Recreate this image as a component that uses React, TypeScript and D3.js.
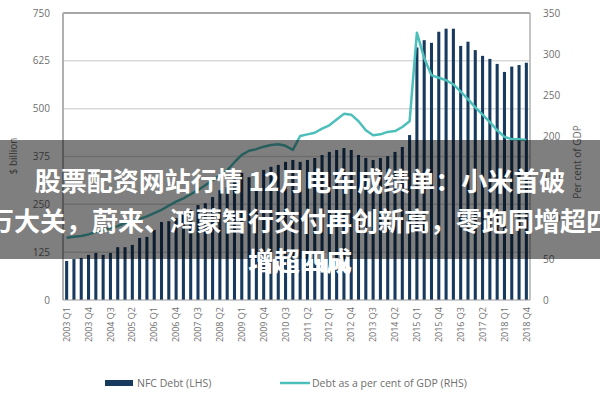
import React from "react";
import * as d3 from "d3";

const years = [2003, 2004, 2005, 2006, 2007, 2008, 2009, 2010, 2011, 2012, 2013, 2014, 2015, 2016, 2017, 2018];
const quarterNames = ["Q1", "Q2", "Q3", "Q4"];
const quarters: string[] = years.flatMap((y) => quarterNames.map((q) => `${y} ${q}`));

// NFC Debt ($ billion, LHS)
const nfcDebt = [
  102, 107, 110, 118, 123, 118, 123, 138, 138, 144, 162, 165, 183, 204, 206, 214,
  222, 235, 248, 253, 269, 287, 295, 319, 332, 321, 329, 340, 348, 353, 361, 366,
  361, 366, 371, 379, 387, 392, 397, 392, 379, 371, 366, 371, 376, 387, 400, 431,
  660, 679, 672, 701, 709, 709, 664, 675, 653, 638, 630, 617, 596, 610, 614, 620,
];

// Debt as a per cent of GDP (RHS)
const debtPctGdp = [
  76, 77, 78, 80, 83, 85, 88, 90, 94, 96, 99, 102, 106, 110, 115, 120,
  124, 129, 134, 140, 146, 152, 158, 168, 177, 182, 184, 187, 189, 190, 188, 183,
  200, 202, 204, 209, 213, 220, 227, 226, 218, 207, 201, 202, 205, 206, 211, 218,
  326, 295, 274, 271, 268, 263, 254, 245, 235, 226, 217, 207, 199, 196, 196, 195,
];

const leftTicks = [0, 125, 250, 375, 500, 625, 750];
const rightTicks = [0, 50, 100, 150, 200, 250, 300, 350];
const titleLines = [
  "股票配资网站行情 12月电车成绩单：小米首破",
  "万大关，蔚来、鸿蒙智行交付再创新高，零跑同增超四",
  "增超四成",
];
const legendLabels = ["NFC Debt (LHS)", "Debt as a per cent of GDP (RHS)"];

const W = 600;
const H = 400;
const plot = { left: 63, right: 530, top: 13, bottom: 300 };
const navy = "#173a5e";
const teal = "#4cbfba";
const tickColor = "#6e6e6e";
const font = "'Open Sans', 'Liberation Sans', sans-serif";

export default function App() {
  const x = d3.scaleBand<number>().domain(d3.range(quarters.length)).range([plot.left, plot.right]).paddingInner(0.58).paddingOuter(0.29);
  const yL = d3.scaleLinear().domain([0, 750]).range([plot.bottom, plot.top]);
  const yR = d3.scaleLinear().domain([0, 350]).range([plot.bottom, plot.top]);
  const cx = (i: number) => (x(i) as number) + x.bandwidth() / 2;
  const line = d3
    .line<number>()
    .x((_, i) => cx(i))
    .y((d) => yR(d))
    .curve(d3.curveLinear);

  return (
    <svg width={W} height={H} style={{ position: "absolute", left: 0, top: 0, background: "#fff" }}>
      <rect x={0} y={0} width={W} height={H} fill="#fff" />
      {/* gridlines */}
      {leftTicks.slice(1, -1).map((t) => (
        <line key={t} x1={plot.left} x2={plot.right} y1={yL(t)} y2={yL(t)} stroke="#d9d9d9" strokeWidth={1.5} />
      ))}
      {/* frame */}
      <line x1={plot.left} x2={plot.right} y1={plot.top} y2={plot.top} stroke="#8a8a8a" strokeWidth={1.5} />
      <line x1={plot.left} x2={plot.left} y1={plot.top} y2={plot.bottom} stroke="#b0b0b0" strokeWidth={2} />
      <line x1={plot.right} x2={plot.right} y1={plot.top} y2={plot.bottom} stroke="#b0b0b0" strokeWidth={1.5} />
      {/* bars */}
      {nfcDebt.map((v, i) => (
        <rect key={i} x={x(i)} y={yL(v)} width={x.bandwidth()} height={yL(0) - yL(v)} fill={navy} />
      ))}
      <line x1={plot.left} x2={plot.right} y1={plot.bottom} y2={plot.bottom} stroke="#9a9a9a" strokeWidth={1} />
      {/* line */}
      <path d={line(debtPctGdp) || ""} fill="none" stroke={teal} strokeWidth={2.5} strokeLinejoin="round" />
      {/* left ticks */}
      {leftTicks.map((t) => (
        <text key={t} x={50} y={yL(t)} dy="0.35em" textAnchor="end" fontSize={10} fill={tickColor} fontFamily={font}>
          {t}
        </text>
      ))}
      {rightTicks.map((t) => (
        <text key={t} x={543} y={yR(t)} dy="0.35em" textAnchor="start" fontSize={10} fill={tickColor} fontFamily={font}>
          {t}
        </text>
      ))}
      <text transform="translate(17,156) rotate(-90)" textAnchor="middle" fontSize={10} fill={tickColor} fontFamily={font}>
        $ billion
      </text>
      <text transform="translate(581,162) rotate(-90)" textAnchor="middle" fontSize={10} fill={tickColor} fontFamily={font}>
        Per cent of GDP
      </text>
      {/* x labels */}
      {quarters.map((q, i) =>
        i % 3 === 0 ? (
          <text key={q} transform={`translate(${cx(i)},307) rotate(-90)`} dy="0.35em" textAnchor="end" fontSize={9} fill={tickColor} fontFamily={font}>
            {q}
          </text>
        ) : null
      )}
      {/* legend */}
      <rect x={105} y={380} width={28} height={6} fill={navy} />
      <text x={137} y={383} dy="0.35em" fontSize={10.5} fill={tickColor} fontFamily={font}>
        {legendLabels[0]}
      </text>
      <line x1={280} x2={310} y1={383} y2={383} stroke={teal} strokeWidth={2.5} />
      <text x={312} y={383} dy="0.35em" fontSize={10.5} fill={tickColor} fontFamily={font}>
        {legendLabels[1]}
      </text>
      {/* overlay */}
      <rect x={0} y={140} width={W} height={119} fill="rgba(0,0,0,0.5)" />
      {titleLines.map((t, i) => (
        <text
          key={i}
          x={300}
          y={182 + i * 40}
          dy="0.36em"
          textAnchor="middle"
          fontSize={26}
          fontWeight="bold"
          fill="#fff"
          fontFamily="'Noto Sans CJK SC', sans-serif"
        >
          {t}
        </text>
      ))}
    </svg>
  );
}
